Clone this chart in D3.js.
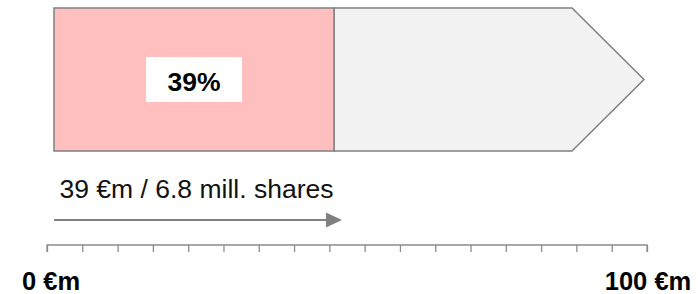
<!DOCTYPE html>
<html lang="en">

<head>
    <meta charset="UTF-8">
    <title>Share</title>
    <script src="https://cdn.jsdelivr.net/npm/d3@7"></script>
    <style>
        body {
            margin: 0;
            background: #fff;
        }

        text {
            font-family: Arial, "Liberation Sans", sans-serif;
        }

        .seg {
            stroke: #808080;
            stroke-width: 1.5px;
        }

        .axis path,
        .axis line {
            stroke: #8c8c8c;
            stroke-width: 1.3px;
        }
    </style>
</head>

<body>
    <div id="chartArea"></div>
    <script>
        // values
        const shareValue = 39;          // €m
        const shareLabel = '39%';
        const arrowLabel = '39 €m / 6.8 mill. shares';
        const axisDomain = [0, 100];
        const axisLabels = ['0 €m', '100 €m'];
        const tickIntervals = 17;

        const W = 698, H = 294;

        const svg = d3.select('#chartArea').append('svg')
            .attr('width', W)
            .attr('height', H);

        // the bar is a schematic, so the share sits on its own scale
        const barX = d3.scaleLinear()
            .domain([0, shareValue, 100])
            .range([54, 334, 644]);
        const barTop = 8, barBottom = 151, shoulder = 72;
        const midY = (barTop + barBottom) / 2;

        // grey remainder, shaped as an arrow
        const x0 = barX(shareValue), x1 = barX(100);
        svg.append('path')
            .attr('class', 'seg')
            .attr('fill', '#f2f2f2')
            .attr('d', `M${x0},${barTop}H${x1 - shoulder}L${x1},${midY}L${x1 - shoulder},${barBottom}H${x0}Z`);

        // share segment
        svg.append('rect')
            .attr('class', 'seg')
            .attr('fill', '#ffbfbf')
            .attr('x', barX(0))
            .attr('y', barTop)
            .attr('width', barX(shareValue) - barX(0))
            .attr('height', barBottom - barTop);

        const cx = (barX(0) + barX(shareValue)) / 2;
        svg.append('rect')
            .attr('fill', '#fff')
            .attr('x', cx - 48)
            .attr('y', 57)
            .attr('width', 96)
            .attr('height', 45);
        svg.append('text')
            .attr('x', cx)
            .attr('y', 90.5)
            .attr('text-anchor', 'middle')
            .style('font-size', '26.5px')
            .style('font-weight', 'bold')
            .text(shareLabel);

        // arrow with label
        svg.append('text')
            .attr('x', 59.5)
            .attr('y', 197.5)
            .style('font-size', '26.5px')
            .attr('fill', '#111')
            .text(arrowLabel);

        const arrowEnd = barX(shareValue) + 8;
        svg.append('line')
            .attr('x1', barX(0)).attr('x2', arrowEnd - 14)
            .attr('y1', 220).attr('y2', 220)
            .attr('stroke', '#808080')
            .attr('stroke-width', 2.2);
        svg.append('path')
            .attr('fill', '#808080')
            .attr('d', `M${arrowEnd - 16},212.5L${arrowEnd},220L${arrowEnd - 16},227.5Z`);

        // axis
        const x = d3.scaleLinear().domain(axisDomain).range([47, 647]);
        const tickVals = d3.range(tickIntervals + 1).map(i => axisDomain[0] + i * (axisDomain[1] - axisDomain[0]) / tickIntervals);
        const ax = svg.append('g')
            .attr('class', 'axis')
            .attr('transform', 'translate(0,245)')
            .call(d3.axisBottom(x).tickValues(tickVals).tickSize(7).tickSizeOuter(7).tickFormat(''));
        ax.select('.domain').attr('d', `M${x(0)},7V0H${x(100)}V7`);

        svg.selectAll('.end-label')
            .data(axisLabels)
            .enter()
            .append('text')
            .attr('class', 'end-label')
            .attr('x', (d, i) => x(axisDomain[i]) + (i ? 1 : 4))
            .attr('y', 290)
            .attr('text-anchor', 'middle')
            .style('font-size', '25.5px')
            .style('font-weight', 'bold')
            .text(d => d);
    </script>
</body>

</html>
